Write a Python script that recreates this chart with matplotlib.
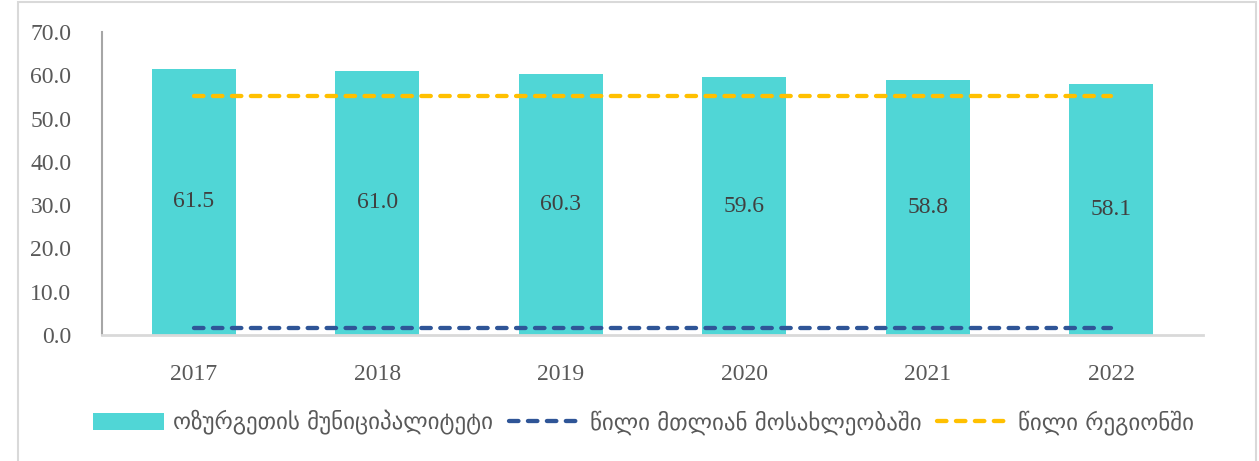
import matplotlib.pyplot as plt
import numpy as np
from matplotlib.patches import Rectangle

years = ["2017", "2018", "2019", "2020", "2021", "2022"]
municipality = [61.5, 61.0, 60.3, 59.6, 58.8, 58.1]
share_total = [1.6, 1.6, 1.6, 1.6, 1.6, 1.6]
share_region = [55.3, 55.3, 55.3, 55.3, 55.3, 55.3]
legend_labels = ["ოზურგეთის მუნიციპალიტეტი", "წილი მთლიან მოსახლეობაში", "წილი რეგიონში"]

bar_color = "#50D6D6"
blue = "#2F5597"
yellow = "#FFC000"
num_font = "Liberation Serif"

fig = plt.figure(figsize=(12.59, 4.61), dpi=100)
ax = fig.add_axes([0.081, 0.2733, 0.8745, 0.6573])

# outer frame
fig.patches.append(Rectangle((0.0145, -0.01), 0.983, 1.005, transform=fig.transFigure,
                             fill=False, edgecolor="#d9d9d9", linewidth=1.5))

x = np.arange(len(years))
bars = ax.bar(x, municipality, width=0.46, color=bar_color, label=legend_labels[0], zorder=2)
l1, = ax.plot(x, share_total, color=blue, linewidth=3.1, dashes=(2.2, 2.2), dash_capstyle="round",
              label=legend_labels[1], zorder=3)
l2, = ax.plot(x, share_region, color=yellow, linewidth=3.1, dashes=(2.2, 2.2), dash_capstyle="round",
              label=legend_labels[2], zorder=3)

for xi, v in zip(x, municipality):
    ax.text(xi, v / 2, f"{v:.1f}", ha="center", va="center", fontsize=17,
            family=num_font, color="#404040")

ax.set_xlim(-0.5, len(years) - 0.5)
ax.set_ylim(0, 70)
ax.set_yticks(np.arange(0, 71, 10))
ax.set_yticklabels([f"{t:.1f}" for t in np.arange(0, 71, 10)])
ax.set_xticks(x)
ax.set_xticklabels(years)
for lab in ax.get_xticklabels() + ax.get_yticklabels():
    lab.set_family(num_font)
    lab.set_fontsize(17)
    lab.set_color("#595959")
ax.tick_params(axis="both", length=0)
ax.tick_params(axis="y", pad=22)
ax.tick_params(axis="x", pad=21)

ax.spines["top"].set_visible(False)
ax.spines["right"].set_visible(False)
ax.spines["left"].set_color("#a6a6a6")
ax.spines["left"].set_linewidth(1.5)
ax.spines["bottom"].set_color("#d9d9d9")
ax.spines["bottom"].set_linewidth(2)

leg = fig.legend([bars, l1, l2], legend_labels, loc="center", bbox_to_anchor=(0.511, 0.083),
                 ncol=3, frameon=False, prop={"family": "DejaVu Sans", "size": 16.5},
                 handlelength=3.1, handletextpad=0.4, columnspacing=0.7, handleheight=0.8)
for t in leg.get_texts():
    t.set_color("#595959")

fig.savefig("out.png", dpi=100)
